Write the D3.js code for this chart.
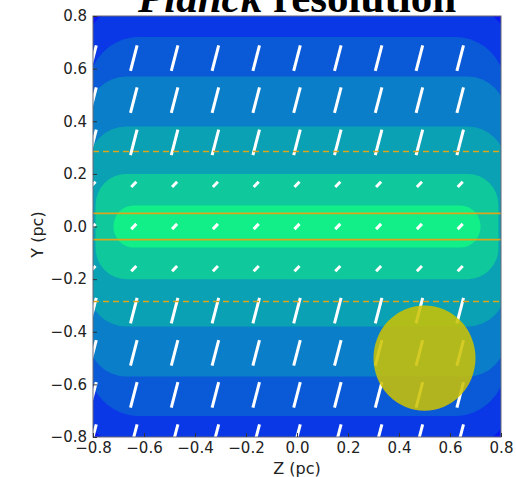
<!DOCTYPE html>
<html>
<head>
  <meta charset="utf-8">
  <title>Planck resolution</title>
  <script src="https://d3js.org/d3.v7.min.js"></script>
  <style>
    body { margin: 0; background: #fff; }
    .tick text { font-family: "DejaVu Sans", sans-serif; font-size: 15px; fill: #222; }
    .axis .domain { stroke: none; }
    .axis line { stroke: #333; }
  </style>
</head>
<body>
  <svg id="chart" width="516" height="477"></svg>

  <script>
    // filled contour bands, outer to inner (half sizes and corner radius in pc)
    const bandHalfZ = [0.82, 0.82, 0.82, 0.82, 0.79, 0.72];
    const bandHalfY = [0.82, 0.72, 0.57, 0.38, 0.20, 0.08];
    const bandRadius = [0.12, 0.20, 0.15, 0.15, 0.12, 0.08];
    const bandColors = ["#0a38e6", "#0a5ad8", "#0a7ec8", "#0aa1b4", "#0fc89c", "#12ee88"];
    const backgroundColor = "#0a1af0";

    // polarization segments: grid positions, per-row length (pc) and angle (deg from vertical)
    const segZ = [-0.8, -0.64, -0.48, -0.32, -0.16, 0.0, 0.16, 0.32, 0.48, 0.64];
    const segY = [-0.8, -0.64, -0.48, -0.32, -0.16, 0.0, 0.16, 0.32, 0.48, 0.64];
    const segLength = [0.10, 0.10, 0.10, 0.10, 0.028, 0.028, 0.028, 0.10, 0.10, 0.10];
    const segAngle = [15, 15, 15, 15, 45, 45, 45, 15, 15, 15];

    // horizontal guide lines
    const solidLines = [0.05, -0.05];
    const dashedLines = [0.285, -0.285];

    // beam (resolution) circle
    const beamZ = 0.5;
    const beamY = -0.5;
    const beamR = 0.2;

    const ticks = [-0.8, -0.6, -0.4, -0.2, 0.0, 0.2, 0.4, 0.6, 0.8];

    const svg = d3.select("svg#chart");
    const margin = { top: 16, right: 15, bottom: 40, left: 93 };
    const chartWidth = 408;
    const chartHeight = 421;

    const zScale = d3.scaleLinear().domain([-0.8, 0.8]).range([0, chartWidth]);
    const yScale = d3.scaleLinear().domain([-0.8, 0.8]).range([chartHeight, 0]);
    const pcX = d => zScale(d) - zScale(0);
    const pcY = d => yScale(0) - yScale(d);

    svg.append("defs").append("clipPath").attr("id", "plotClip")
      .append("rect").attr("width", chartWidth).attr("height", chartHeight);

    let plot = svg.append("g")
      .attr("transform", `translate(${margin.left},${margin.top})`);
    let inner = plot.append("g").attr("clip-path", "url(#plotClip)");

    inner.append("rect")
      .attr("width", chartWidth).attr("height", chartHeight)
      .attr("fill", backgroundColor);

    // contour bands as rounded rectangles
    inner.selectAll("rect.band").data(d3.range(bandHalfZ.length))
      .join("rect")
      .attr("class", "band")
      .attr("x", i => zScale(-bandHalfZ[i]))
      .attr("y", i => yScale(bandHalfY[i]))
      .attr("width", i => zScale(bandHalfZ[i]) - zScale(-bandHalfZ[i]))
      .attr("height", i => yScale(-bandHalfY[i]) - yScale(bandHalfY[i]))
      .attr("rx", i => pcX(bandRadius[i]))
      .attr("ry", i => pcY(bandRadius[i]))
      .attr("fill", i => bandColors[i]);

    // segments
    const segs = [];
    segY.forEach((y, r) => segZ.forEach(z => segs.push({ z: z, y: y, len: segLength[r], ang: segAngle[r] })));
    const rad = d => d.ang * Math.PI / 180;
    inner.selectAll("line.seg").data(segs)
      .join("line")
      .attr("class", "seg")
      .attr("x1", d => zScale(d.z) - pcX(d.len / 2 * Math.sin(rad(d))))
      .attr("x2", d => zScale(d.z) + pcX(d.len / 2 * Math.sin(rad(d))))
      .attr("y1", d => yScale(d.y) + pcY(d.len / 2 * Math.cos(rad(d))))
      .attr("y2", d => yScale(d.y) - pcY(d.len / 2 * Math.cos(rad(d))))
      .attr("stroke", "#fff")
      .attr("stroke-width", 3);

    // guide lines
    inner.selectAll("line.solid").data(solidLines)
      .join("line")
      .attr("class", "solid")
      .attr("x1", 0).attr("x2", chartWidth)
      .attr("y1", d => yScale(d)).attr("y2", d => yScale(d))
      .attr("stroke", "#dca51c").attr("stroke-width", 1.6);

    inner.selectAll("line.dashed").data(dashedLines)
      .join("line")
      .attr("class", "dashed")
      .attr("x1", 0).attr("x2", chartWidth)
      .attr("y1", d => yScale(d)).attr("y2", d => yScale(d))
      .attr("stroke", "#dca51c").attr("stroke-width", 1.6)
      .attr("stroke-dasharray", "6,4");

    // beam circle (drawn as ellipse since the scales differ a little)
    inner.append("ellipse")
      .attr("cx", zScale(beamZ)).attr("cy", yScale(beamY))
      .attr("rx", pcX(beamR)).attr("ry", pcY(beamR))
      .attr("fill", "#cdc200").attr("fill-opacity", 0.86);

    // frame
    plot.append("rect")
      .attr("width", chartWidth).attr("height", chartHeight)
      .attr("fill", "none").attr("stroke", "#667").attr("stroke-width", 1);

    // axes
    const fmt = d3.format(".1f");
    plot.append("g")
      .attr("class", "x axis")
      .attr("transform", `translate(0,${chartHeight})`)
      .call(d3.axisBottom(zScale).tickValues(ticks).tickFormat(fmt).tickSize(-4).tickPadding(5));

    plot.append("g")
      .attr("class", "y axis")
      .call(d3.axisLeft(yScale).tickValues(ticks).tickFormat(fmt).tickSize(-4).tickPadding(6));

    svg.append("text")
      .attr("x", margin.left + chartWidth / 2).attr("y", 474)
      .attr("text-anchor", "middle")
      .style("font-family", "DejaVu Sans, sans-serif").style("font-size", "16px").attr("fill", "#222")
      .text("Z (pc)");

    svg.append("text")
      .attr("transform", `translate(43,${margin.top + chartHeight / 2 + 8}) rotate(-90)`)
      .attr("text-anchor", "middle")
      .style("font-family", "DejaVu Sans, sans-serif").style("font-size", "16px").attr("fill", "#222")
      .text("Y (pc)");

    // title, partly cut off by the top edge as in the source figure
    let title = svg.append("text")
      .attr("x", margin.left + chartWidth / 2).attr("y", 12)
      .attr("text-anchor", "middle")
      .style("font-family", "Liberation Serif, Times New Roman, serif")
      .style("font-size", "43px").style("font-weight", "bold").attr("fill", "#000");
    title.append("tspan").style("font-style", "italic").text("Planck");
    title.append("tspan").text(" resolution");
  </script>
</body>
</html>
